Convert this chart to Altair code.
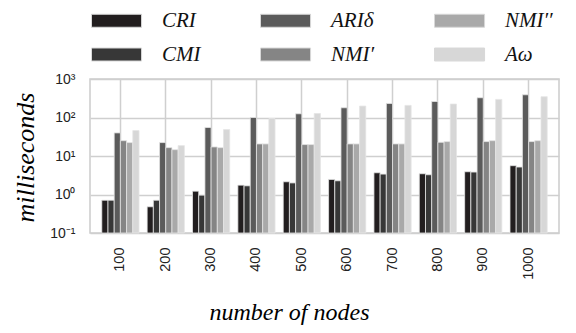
import altair as alt
import pandas as pd

nodes = [100, 200, 300, 400, 500, 600, 700, 800, 900, 1000]
methods = ["CRI", "CMI", "ARIδ", "NMI′", "NMI′′", "Aω"]
colors = ["#221e1f", "#373737", "#5b5b5b", "#858585", "#a9a9a9", "#d7d7d7"]

cri = [0.71, 0.48, 1.22, 1.75, 2.14, 2.46, 3.67, 3.46, 3.9, 5.6]
cmi = [0.71, 0.71, 0.96, 1.68, 2.0, 2.27, 3.39, 3.26, 3.83, 5.17]
ari = [39.8, 22.3, 55.0, 100.0, 125.0, 179.0, 232.0, 261.0, 326.0, 389.0]
nmi1 = [25.0, 16.5, 17.2, 20.6, 19.8, 20.6, 20.6, 22.7, 23.7, 23.7]
nmi2 = [22.3, 14.6, 16.5, 20.6, 19.8, 20.6, 20.6, 23.7, 25.0, 25.0]
aw = [45.7, 18.6, 48.6, 94.0, 127.0, 198.0, 206.0, 223.0, 295.0, 347.0]
y_ticks = [0.1, 1, 10, 100, 1000]

series = [cri, cmi, ari, nmi1, nmi2, aw]
rows = []
for m, vals in zip(methods, series):
    for n, v in zip(nodes, vals):
        rows.append({"nodes": n, "method": m, "ms": v})
df = pd.DataFrame(rows)

label_expr = ("datum.value >= 999 ? '10³' : datum.value >= 99 ? '10²' : "
              "datum.value >= 9 ? '10¹' : datum.value >= 0.9 ? '10⁰' : '10⁻¹'")

chart = alt.Chart(df).mark_bar(stroke="#e4e4e4", strokeWidth=0.8).encode(
    x=alt.X("nodes:N", sort=nodes,
            scale=alt.Scale(paddingInner=0.18, paddingOuter=0.26),
            axis=alt.Axis(title="number of nodes", labelAngle=-90, ticks=False,
                          domain=False, labelPadding=14, labelFont="Liberation Sans",
                          labelFontSize=14.5, labelColor="#222",
                          titleFont="Liberation Serif", titleFontStyle="italic",
                          titleFontWeight="normal", titleFontSize=24,
                          titleX=199, titleY=86, titleAlign="center",
                          titleBaseline="alphabetic", grid=True)),
    xOffset=alt.XOffset("method:N", scale=alt.Scale(domain=methods)),
    y=alt.Y("ms:Q",
            scale=alt.Scale(type="log", domain=[y_ticks[0], y_ticks[-1]]),
            axis=alt.Axis(title="milliseconds", values=y_ticks,
                          labelExpr=label_expr, ticks=False, domain=False,
                          labelPadding=15, labelFont="Liberation Sans",
                          labelFontSize=14, labelColor="#222",
                          titleFont="Liberation Serif", titleFontStyle="italic",
                          titleFontWeight="normal", titleFontSize=26,
                          titleAngle=270, titleX=-57, titleY=78,
                          titleAlign="center", titleBaseline="alphabetic",
                          grid=True)),
    y2=alt.Y2Datum(y_ticks[0]),
    color=alt.Color("method:N",
                    scale=alt.Scale(domain=methods, range=colors),
                    legend=alt.Legend(title=None, orient="none", legendX=1, legendY=-72,
                                      columns=3, columnPadding=57, rowPadding=10,
                                      symbolType="M-1,-0.5H2.85V0.5H-1Z",
                                      symbolSize=676, symbolStrokeColor="#d8d8d8",
                                      symbolStrokeWidth=1, symbolOpacity=1,
                                      labelOffset=44, labelFont="Liberation Serif",
                                      labelFontStyle="italic", labelFontSize=21,
                                      labelColor="#111", labelLimit=200, padding=0)),
).properties(
    width=469, height=154,
    autosize=alt.AutoSizeParams(type="none"),
    padding={"left": 82, "top": 71, "right": 9, "bottom": 92},
).configure_view(
    stroke="#cccccc", strokeWidth=1.5
).configure_axis(
    gridColor="#cfcfcf", gridWidth=1.5, gridOpacity=1
)

chart.save("out.html", embed_options={"renderer": "svg", "actions": False})
